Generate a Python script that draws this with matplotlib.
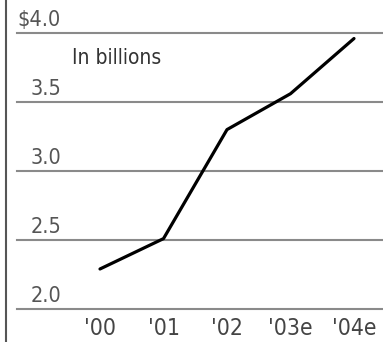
import matplotlib
matplotlib.use("Agg")
import matplotlib.pyplot as plt

# data
years = ["'00", "'01", "'02", "'03e", "'04e"]
revenue = [2.29, 2.51, 3.30, 3.56, 3.96]
grid_vals = [2.0, 2.5, 3.0, 3.5, 4.0]
grid_labels = ["2.0", "2.5", "3.0", "3.5", "$4.0"]

plt.rcParams["font.family"] = ["DejaVu Sans"]
plt.rcParams["font.stretch"] = "condensed"

W, H = 383, 342
fig = plt.figure(figsize=(W / 100, H / 100), dpi=100)
ax = fig.add_axes([0, 0, 1, 1])
ax.axis("off")

# map pixels to data: x step 63.5 px from '00 at px 100; 0.5 = 69 px, 2.0 at px 309
x0_px, dx_px = 100, 63.5
ax.set_xlim(-x0_px / dx_px, (W - x0_px) / dx_px)
ax.set_ylim(2.0 - (H - 309) / 138, 2.0 + 309 / 138)

# gridlines and labels
for v, lab in zip(grid_vals, grid_labels):
    ax.axhline(v, xmin=17 / W, xmax=1, color="#8a8a8a", lw=1.5, zorder=1)
    ax.text(-x0_px / dx_px + 61 / dx_px, v + 0.02, lab, ha="right", va="bottom",
            fontsize=15.5, color="#555555")

# left frame line
ax.axvline(-x0_px / dx_px + 6 / dx_px, color="#555555", lw=1.5)

ax.text(-x0_px / dx_px + 72 / dx_px, 3.82, "In billions", ha="left", va="center",
        fontsize=15, color="#333333")

xs = list(range(len(years)))
ax.plot(xs, revenue, color="black", lw=2.3, solid_capstyle="round", zorder=3)

for x, lab in zip(xs, years):
    ax.text(x, 2.0 - 0.14, lab, ha="center", va="center", fontsize=16.5, color="#444444")

fig.savefig("out.png", dpi=100)
